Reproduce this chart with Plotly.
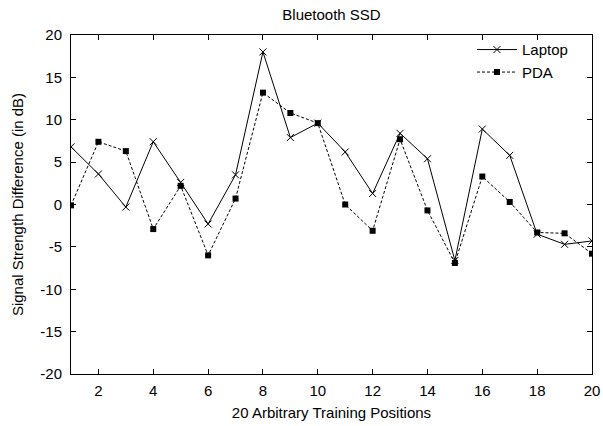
import plotly.graph_objects as go

positions = list(range(1, 21))
laptop = [6.8, 3.6, -0.3, 7.4, 2.6, -2.3, 3.5, 18.0, 7.9, 9.6,
          6.2, 1.3, 8.4, 5.4, -6.6, 8.9, 5.8, -3.5, -4.7, -4.3]
pda = [-0.1, 7.4, 6.3, -2.9, 2.2, -6.0, 0.7, 13.2, 10.8, 9.6,
       0.0, -3.1, 7.7, -0.7, -6.9, 3.3, 0.3, -3.3, -3.4, -5.8]
y_ticks = [-20, -15, -10, -5, 0, 5, 10, 15, 20]
y_labels = ["-20", "-15", "-10", "-5", "0", "5", "10", "15", "20"]
x_ticks = [2, 4, 6, 8, 10, 12, 14, 16, 18, 20]
x_labels = ["2", "4", "6", "8", "10", "12", "14", "16", "18", "20"]

font = "Liberation Sans, Arial, sans-serif"

fig = go.Figure()
fig.add_trace(go.Scatter(
    x=positions, y=laptop, name="Laptop", mode="lines+markers",
    line=dict(color="black", width=1),
    marker=dict(symbol="x-thin-open", size=7, color="black",
                line=dict(color="black", width=1)),
))
fig.add_trace(go.Scatter(
    x=positions, y=pda, name="PDA", mode="lines+markers",
    line=dict(color="black", width=1, dash="3px,2px"),
    marker=dict(symbol="square", size=6, color="black"),
))

axis_common = dict(
    showgrid=False, zeroline=False, showline=True, linecolor="black",
    linewidth=1, mirror="ticks", ticks="inside", ticklen=5, automargin=False,
    tickcolor="black", tickfont=dict(family=font, size=15, color="black"),
)

fig.update_layout(
    width=603, height=426, autosize=False,
    margin=dict(l=71, r=11, t=35, b=52, autoexpand=False),
    paper_bgcolor="white", plot_bgcolor="white",
    font=dict(family=font, size=15, color="black"),
    title=dict(text="Bluetooth SSD", x=0.5, xref="paper", xanchor="center",
               y=1 - 15 / 426, yref="container", yanchor="middle",
               font=dict(family=font, size=15)),
    xaxis=dict(range=[1, 20], tickvals=x_ticks, ticktext=x_labels,
               ticklabelstandoff=3,
               title=dict(text="20 Arbitrary Training Positions",
                          font=dict(family=font, size=15), standoff=9),
               **axis_common),
    yaxis=dict(range=[-20, 20], tickvals=y_ticks, ticktext=y_labels,
               ticklabelstandoff=5,
               title=dict(text="Signal Strength Difference (in dB)",
                          font=dict(family=font, size=15), standoff=13),
               **axis_common),
    legend=dict(x=0.9635, y=1.005, xanchor="right", yanchor="top",
                bgcolor="rgba(0,0,0,0)", font=dict(family=font, size=15),
                itemwidth=40, tracegroupgap=0),
    showlegend=True,
)

fig.write_html("out.html", config={"displayModeBar": False},
               post_script="document.body.style.margin='0';")
